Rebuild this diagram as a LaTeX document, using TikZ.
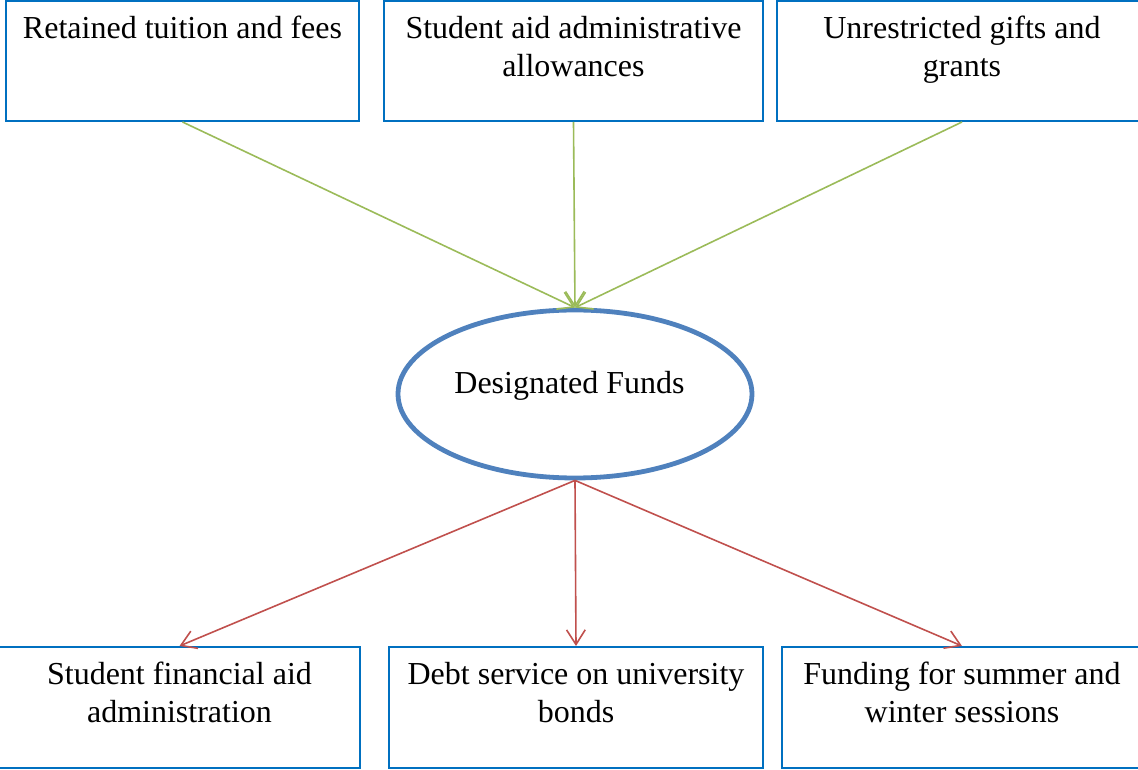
\documentclass[tikz,border=0pt]{standalone}
\usepackage{fontspec}
\setmainfont{Liberation Serif}
\usetikzlibrary{arrows.meta,shapes.geometric}
\definecolor{figbox}{RGB}{0,112,192}
\definecolor{figfund}{RGB}{79,129,189}
\definecolor{figin}{RGB}{155,187,89}
\definecolor{figout}{RGB}{192,80,77}
\newcommand{\pxu}{0.375pt}
\tikzset{
  bx/.style    ={draw=figbox, line width=0.75pt, minimum height=120*\pxu, inner sep=0pt},
  bxt/.style   ={anchor=north, align=center, inner sep=0pt, font=\fontsize{12}{13.9}\selectfont},
  fund/.style  ={draw=figfund, line width=1.8pt, ellipse, minimum width=354*\pxu, minimum height=168*\pxu, inner sep=0pt},
  arin/.style  ={draw=figin, line width=0.6pt, -{Straight Barb[length=5.5pt,width=7pt]}},
  arout/.style ={draw=figout, line width=0.6pt, -{Straight Barb[length=5.5pt,width=7pt]}},
}
\begin{document}
\begin{tikzpicture}[x=\pxu, y=-\pxu]
  \useasboundingbox (0,0) rectangle (1138,770);
  \begin{scope}
  \clip (0,0) rectangle (1138,770);
  % sources
  \node[bx, minimum width=353*\pxu] (src1) at (182.5,61) {};
  \node[bx, minimum width=379*\pxu] (src2) at (573.5,61) {};
  \node[bx, minimum width=370*\pxu] (src3) at (962,61) {};
  \node[bxt] (src1t) at ([yshift=-12.5*\pxu]src1.north) {\strut Retained tuition and fees};
  \node[bxt] (src2t) at ([yshift=-12.5*\pxu]src2.north) {\strut Student aid administrative\\allowances};
  \node[bxt] (src3t) at ([yshift=-12.5*\pxu]src3.north) {\strut Unrestricted gifts and\\grants};
  % fund
  \node[fund] (fund) at (575,394) {};
  \node[font=\fontsize{12}{13.9}\selectfont, anchor=base, inner sep=0pt] (fundt) at (569.5,393.5) {Designated Funds};
  % uses
  \node[bx, minimum width=361*\pxu, minimum height=121*\pxu] (use1) at (179.5,707.5) {};
  \node[bx, minimum width=374*\pxu, minimum height=121*\pxu] (use2) at (576,707.5) {};
  \node[bx, minimum width=360*\pxu, minimum height=121*\pxu] (use3) at (962,707.5) {};
  \node[bxt] (use1t) at ([yshift=-12.5*\pxu]use1.north) {\strut Student financial aid\\administration};
  \node[bxt] (use2t) at ([yshift=-12.5*\pxu]use2.north) {\strut Debt service on university\\bonds};
  \node[bxt] (use3t) at ([yshift=-12.5*\pxu]use3.north) {\strut Funding for summer and\\winter sessions};
  % flows
  \draw[arin] (src1.south) -- (fund.north);
  \draw[arin] (src2.south) -- (fund.north);
  \draw[arin] (src3.south) -- (fund.north);
  \draw[arout] (fund.south) -- (use1.north);
  \draw[arout] (fund.south) -- (use2.north);
  \draw[arout] (fund.south) -- (use3.north);
  \end{scope}
\end{tikzpicture}
\end{document}
